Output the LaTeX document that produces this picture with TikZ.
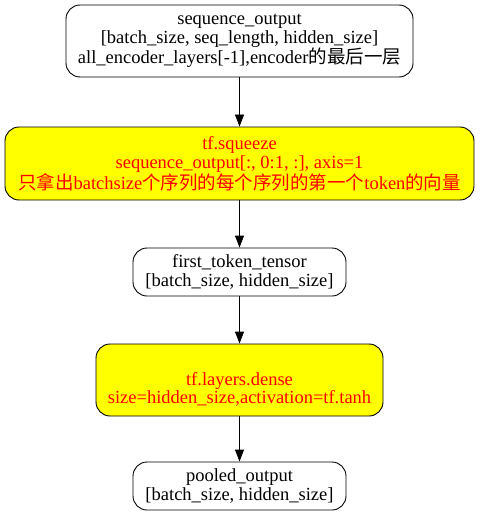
\documentclass[tikz,border=0pt]{standalone}
\usepackage{fontspec}
\setmainfont{Liberation Serif}
\newfontfamily\cjk[Scale=1.0]{Noto Sans CJK SC}
\usetikzlibrary{arrows.meta}
\definecolor{opfill}{RGB}{255,255,0}
\definecolor{optext}{RGB}{255,0,0}

\begin{document}
\begin{tikzpicture}[x=1pt,y=-1pt,
  box/.style={draw, rounded corners=14pt, align=center, inner sep=0pt,
    font=\fontsize{18.5}{18.8}\selectfont, line width=0.9pt},
  op/.style={box, fill=opfill, text=optext},
  flow/.style={-{Triangle[length=12pt,width=9pt]}, line width=0.9pt}]
\useasboundingbox (0,0) rectangle (479,516);

\node[box, minimum width=347, minimum height=72] (seq) at (239.5,41)
  {sequence\_output\\{[}batch\_size, seq\_length, hidden\_size{]}\\all\_encoder\_layers{[}-1{]},encoder{\cjk 的最后一层}};

\node[op, minimum width=469, minimum height=73] (squeeze) at (239.5,163.5)
  {tf.squeeze\\sequence\_output{[}:, 0:1, :{]}, axis=1\\{\cjk 只拿出}batchsize{\cjk 个序列的每个序列的第一个}token{\cjk 的向量}};

\node[box, minimum width=213, minimum height=48] (first) at (239.5,272)
  {first\_token\_tensor\\{[}batch\_size, hidden\_size{]}};

\node[op, minimum width=287, minimum height=72] (dense) at (239.5,380)
  {\strut\\tf.layers.dense\\size=hidden\_size,activation=tf.tanh};

\node[box, minimum width=213, minimum height=48] (pooled) at (239.5,486)
  {pooled\_output\\{[}batch\_size, hidden\_size{]}};

\draw[flow] (seq) -- (squeeze);
\draw[flow] (squeeze) -- (first);
\draw[flow] (first) -- (dense);
\draw[flow] (dense) -- (pooled);
\end{tikzpicture}
\end{document}
